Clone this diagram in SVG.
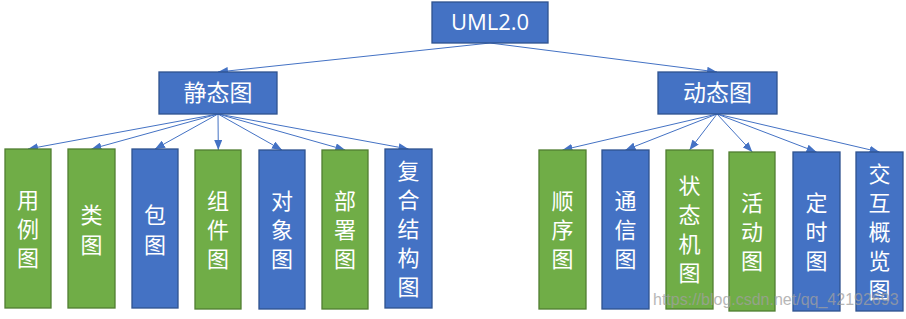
<svg xmlns="http://www.w3.org/2000/svg" width="906" height="319" viewBox="0 0 906 319">
<style>
.b{fill:#4472C4;stroke:#2F528F;stroke-width:1.3}
.g{fill:#70AD47;stroke:#507E32;stroke-width:1.3}
.t{fill:#fff;font-family:"Noto Sans CJK SC","Noto Sans",sans-serif;text-anchor:middle}
.h{font-size:23px}
.v{font-size:22px}
.c{stroke:#4472C4;stroke-width:1;fill:none;marker-end:url(#a)}
.w{font-family:"Liberation Sans",Arial,sans-serif;font-size:16px;fill:#a0a0a0;opacity:0.75}
</style>
<defs>
<marker id="a" markerWidth="10" markerHeight="8" refX="10" refY="4" orient="auto" markerUnits="userSpaceOnUse">
<path d="M0,0 L10,4 L0,8 Z" fill="#4472C4"/>
</marker>
</defs>
<g id="connectors">
<line class="c" x1="490" y1="43" x2="218" y2="72"/>
<line class="c" x1="490" y1="43" x2="717" y2="72"/>
<line class="c" x1="218" y1="114" x2="28" y2="149"/>
<line class="c" x1="218" y1="114" x2="91.5" y2="149"/>
<line class="c" x1="218" y1="114" x2="155" y2="149"/>
<line class="c" x1="218" y1="114" x2="218.3" y2="150"/>
<line class="c" x1="218" y1="114" x2="282" y2="150"/>
<line class="c" x1="218" y1="114" x2="345.3" y2="150"/>
<line class="c" x1="218" y1="114" x2="408.5" y2="149"/>
<line class="c" x1="717" y1="114" x2="562.5" y2="150"/>
<line class="c" x1="717" y1="114" x2="625.5" y2="150"/>
<line class="c" x1="717" y1="114" x2="689.5" y2="150"/>
<line class="c" x1="717" y1="114" x2="752.3" y2="152"/>
<line class="c" x1="717" y1="114" x2="816.5" y2="152"/>
<line class="c" x1="717" y1="114" x2="879.5" y2="152"/>
</g>
<g id="uml"><rect class="b" x="432" y="2" width="116" height="41"/><text class="t" x="490" y="30" style="font-family:'Open Sans','Noto Sans',sans-serif;font-size:22px">UML2.0</text></g>
<g id="static"><rect class="b" x="159" y="72" width="118" height="42"/><text class="t h" x="218" y="101">静态图</text></g>
<g id="dynamic"><rect class="b" x="658" y="72" width="119" height="42"/><text class="t h" x="717.5" y="101">动态图</text></g>
<g id="usecase"><rect class="g" x="5" y="149" width="46" height="159"/><text class="t v" x="28"><tspan x="28" y="208">用</tspan><tspan x="28" y="237">例</tspan><tspan x="28" y="266">图</tspan></text></g>
<g id="class"><rect class="g" x="68" y="149" width="47" height="159"/><text class="t v" x="91.5"><tspan x="91.5" y="223">类</tspan><tspan x="91.5" y="253">图</tspan></text></g>
<g id="package"><rect class="b" x="132" y="149" width="46" height="159"/><text class="t v" x="155"><tspan x="155" y="223">包</tspan><tspan x="155" y="253">图</tspan></text></g>
<g id="component"><rect class="g" x="195" y="150" width="46" height="159"/><text class="t v" x="218"><tspan x="218" y="209">组</tspan><tspan x="218" y="238">件</tspan><tspan x="218" y="267">图</tspan></text></g>
<g id="object"><rect class="b" x="259" y="150" width="46" height="159"/><text class="t v" x="282"><tspan x="282" y="209">对</tspan><tspan x="282" y="238">象</tspan><tspan x="282" y="267">图</tspan></text></g>
<g id="deploy"><rect class="g" x="322" y="150" width="46" height="159"/><text class="t v" x="345"><tspan x="345" y="209">部</tspan><tspan x="345" y="238">署</tspan><tspan x="345" y="267">图</tspan></text></g>
<g id="composite"><rect class="b" x="385" y="149" width="47" height="159"/><text class="t v" x="408.5"><tspan x="408.5" y="179">复</tspan><tspan x="408.5" y="208">合</tspan><tspan x="408.5" y="237">结</tspan><tspan x="408.5" y="266">构</tspan><tspan x="408.5" y="295">图</tspan></text></g>
<g id="sequence"><rect class="g" x="539" y="150" width="47" height="159"/><text class="t v" x="562.5"><tspan x="562.5" y="209">顺</tspan><tspan x="562.5" y="238">序</tspan><tspan x="562.5" y="267">图</tspan></text></g>
<g id="communication"><rect class="b" x="602" y="150" width="47" height="159"/><text class="t v" x="625.5"><tspan x="625.5" y="209">通</tspan><tspan x="625.5" y="238">信</tspan><tspan x="625.5" y="267">图</tspan></text></g>
<g id="statemachine"><rect class="g" x="666" y="150" width="47" height="159"/><text class="t v" x="689.5"><tspan x="689.5" y="194">状</tspan><tspan x="689.5" y="223">态</tspan><tspan x="689.5" y="252">机</tspan><tspan x="689.5" y="281">图</tspan></text></g>
<g id="activity"><rect class="g" x="729" y="152" width="46" height="159"/><text class="t v" x="752"><tspan x="752" y="211">活</tspan><tspan x="752" y="240">动</tspan><tspan x="752" y="269">图</tspan></text></g>
<g id="timing"><rect class="b" x="793" y="152" width="47" height="159"/><text class="t v" x="816.5"><tspan x="816.5" y="211">定</tspan><tspan x="816.5" y="240">时</tspan><tspan x="816.5" y="269">图</tspan></text></g>
<g id="overview"><rect class="b" x="856" y="152" width="47" height="159"/><text class="t v" x="879.5"><tspan x="879.5" y="182">交</tspan><tspan x="879.5" y="211">互</tspan><tspan x="879.5" y="240">概</tspan><tspan x="879.5" y="269">览</tspan><tspan x="879.5" y="298">图</tspan></text></g>
<text class="w" x="653" y="305">https://blog.csdn.net/qq_42192693</text>
</svg>
